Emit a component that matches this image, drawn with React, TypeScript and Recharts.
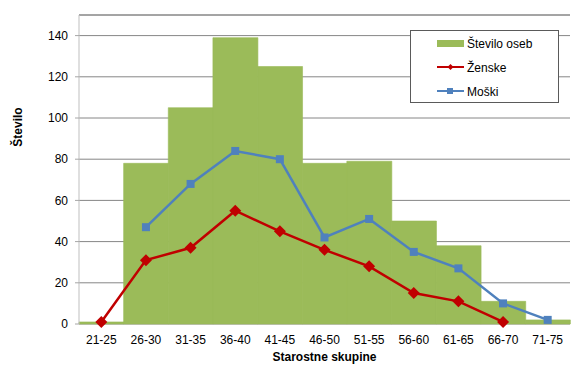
import React from "react"
import { ComposedChart, Bar, Line, XAxis, YAxis, CartesianGrid, ReferenceLine } from "recharts"

// starostne skupine in vrednosti, odčitane z grafa
const skupine = ["21-25", "26-30", "31-35", "36-40", "41-45", "46-50", "51-55", "56-60", "61-65", "66-70", "71-75"]
const steviloOseb = [1, 78, 105, 139, 125, 78, 79, 50, 38, 11, 2]
const zenske = [1, 31, 37, 55, 45, 36, 28, 15, 11, 1, null]
const moski = [null, 47, 68, 84, 80, 42, 51, 35, 27, 10, 2]
const yTicks = [0, 20, 40, 60, 80, 100, 120, 140]
const mejeTicks = [0, 1, 2, 3, 4, 5, 6, 7, 8, 9, 10, 11]

const data = skupine.map((s, i) => ({
  skupina: s,
  stevilo: steviloOseb[i],
  zenske: zenske[i],
  moski: moski[i],
}))

const FONT = "'Liberation Sans', Arial, sans-serif"
const GREEN = "#9BBB59"
const RED = "#C00000"
const BLUE = "#4F81BD"
const GRID = "#868686"

const Diamond = (props: any) => {
  const { cx, cy } = props
  if (cx == null || cy == null || props.value == null) return null
  const r = 6
  return <path d={`M${cx},${cy - r}L${cx + r},${cy}L${cx},${cy + r}L${cx - r},${cy}Z`} fill={RED} />
}

const Square = (props: any) => {
  const { cx, cy } = props
  if (cx == null || cy == null || props.value == null) return null
  const s = 4
  return <rect x={cx - s} y={cy - s} width={s * 2} height={s * 2} fill={BLUE} />
}

const LegendBox = () => (
  <div
    style={{
      position: "absolute",
      left: 410,
      top: 30,
      width: 149,
      height: 73,
      border: "1px solid #5a5a5a",
      background: "#fff",
      boxSizing: "border-box",
    }}
  >
    <svg width={147} height={71} style={{ position: "absolute", left: 0, top: 0 }}>
      <rect x={26} y={9} width={27} height={7} fill={GREEN} />
      <line x1={26} x2={53} y1={36} y2={36} stroke={RED} strokeWidth={2} />
      <path d="M39.5,33L42.5,36L39.5,39L36.5,36Z" fill={RED} />
      <line x1={26} x2={53} y1={60} y2={60} stroke={BLUE} strokeWidth={2} />
      <rect x={36} y={57} width={6} height={6} fill={BLUE} />
      <text x={56} y={17} fontSize={12} fontFamily={FONT}>Število oseb</text>
      <text x={56} y={41} fontSize={12} fontFamily={FONT}>Ženske</text>
      <text x={56} y={65} fontSize={12} fontFamily={FONT}>Moški</text>
    </svg>
  </div>
)

export default function App() {
  return (
    <div style={{ position: "absolute", left: 0, top: 0, width: 584, height: 380, background: "#fff" }}>
      <ComposedChart
        width={584}
        height={380}
        data={data}
        barCategoryGap={0}
        barGap={0}
        margin={{ top: 15, right: 14, left: 0, bottom: 26 }}
      >
        <CartesianGrid horizontal vertical={false} stroke={GRID} strokeWidth={1} />
        <XAxis
          xAxisId="meje"
          type="number"
          domain={[0, 11]}
          ticks={mejeTicks}
          tickFormatter={() => ""}
          tickSize={5}
          tickLine={{ stroke: "#a6a6a6" }}
          axisLine={{ stroke: "#a6a6a6" }}
          height={0}
          allowDataOverflow
        />
        <XAxis
          dataKey="skupina"
          tickLine={false}
          axisLine={false}
          height={30}
          tickMargin={5}
          tick={{ fontSize: 12, fontFamily: FONT, fill: "#000" }}
          interval={0}
          label={{
            value: "Starostne skupine",
            position: "insideBottom",
            offset: -7,
            style: { fontSize: 12, fontWeight: "bold", fontFamily: FONT, fill: "#000" },
          }}
        />
        <YAxis
          domain={[0, 150]}
          ticks={yTicks}
          width={79}
          tickSize={4}
          tickMargin={7}
          tickLine={{ stroke: "#a6a6a6" }}
          axisLine={{ stroke: "#bfbfbf" }}
          tick={{ fontSize: 12, fontFamily: FONT, fill: "#000" }}
          label={() => (
            <text
              x={18}
              y={127}
              transform="rotate(-90, 18, 127)"
              textAnchor="middle"
              dominantBaseline="central"
              fontSize={12}
              fontWeight="bold"
              fontFamily={FONT}
              fill="#000"
            >
              Število
            </text>
          )}
        />
        <ReferenceLine y={150} stroke={GRID} />
        <ReferenceLine x={11} xAxisId="meje" stroke={GRID} />
        <Bar dataKey="stevilo" name="Število oseb" fill={GREEN} stroke={GREEN} strokeWidth={0.6} isAnimationActive={false} />
        <Line
          dataKey="zenske"
          name="Ženske"
          stroke={RED}
          strokeWidth={2.5}
          dot={<Diamond />}
          activeDot={false}
          isAnimationActive={false}
        />
        <Line
          dataKey="moski"
          name="Moški"
          stroke={BLUE}
          strokeWidth={2.5}
          dot={<Square />}
          activeDot={false}
          isAnimationActive={false}
        />
      </ComposedChart>
      <LegendBox />
    </div>
  )
}
